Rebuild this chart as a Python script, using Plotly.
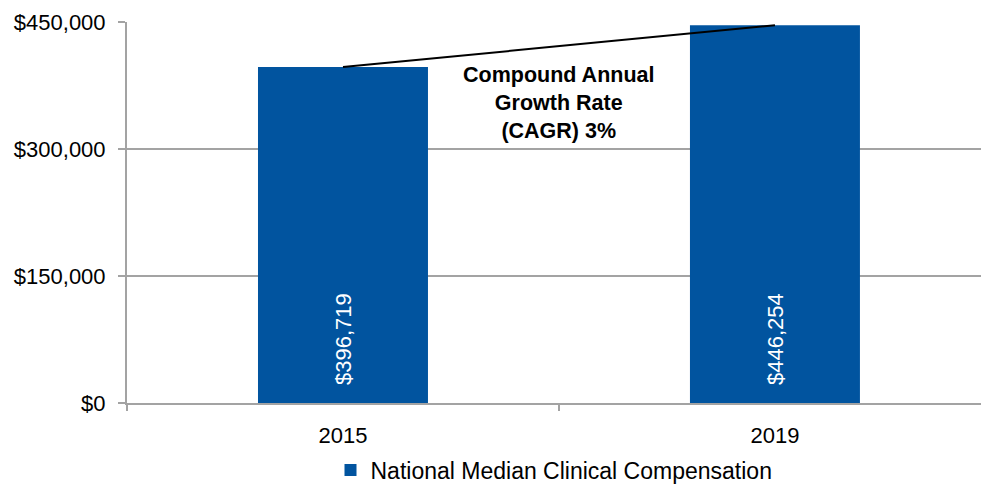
import plotly.graph_objects as go

years = ["2015", "2019"]
compensation = [396719, 446254]
series_name = "National Median Clinical Compensation"
cagr_text = "Compound Annual<br>Growth Rate<br>(CAGR) 3%"
y_ticks = [0, 150000, 300000, 450000]

BAR = "#01549F"
GRID = "#A3A3A3"
FONT = "Liberation Sans, Arial, Helvetica, sans-serif"

fig = go.Figure()
fig.add_trace(go.Bar(
    x=years, y=compensation, name=series_name,
    marker=dict(color=BAR, line=dict(width=0)),
))
fig.add_trace(go.Scatter(
    x=years, y=compensation, mode="lines",
    line=dict(color="black", width=2), showlegend=False, hoverinfo="skip",
))

for i, v in enumerate(compensation):
    fig.add_annotation(
        x=i, y=0, xref="x", yref="y", text="${:,.0f}".format(v), textangle=-90,
        showarrow=False, yanchor="bottom", yshift=16,
        font=dict(color="white", size=22, family=FONT),
    )

fig.add_annotation(
    x=0.5, y=354000, xref="x", yref="y", text="<b>" + cagr_text + "</b>",
    showarrow=False, align="center", yanchor="middle",
    font=dict(color="black", size=21.5, family=FONT),
)

fig.update_layout(
    width=981, height=485,
    margin=dict(l=127, r=0, t=22, b=82, autoexpand=False),
    paper_bgcolor="white", plot_bgcolor="white",
    font=dict(family=FONT, size=22, color="black"),
    bargap=0.6065,
    showlegend=True,
    legend=dict(orientation="h", x=0.5, xanchor="center", y=-0.176, yanchor="middle",
                font=dict(size=23), itemwidth=30),
)
fig.update_xaxes(
    type="category", range=[-0.5, 1.477],
    showline=True, linecolor=GRID, linewidth=2,
    ticks="outside", tickson="boundaries", ticklen=6, tickcolor=GRID, tickwidth=2,
    showgrid=False, tickfont=dict(size=22), ticklabelstandoff=12,
)
fig.update_yaxes(
    range=[0, 450000], tickvals=y_ticks, tickformat="$,.0f",
    showgrid=True, gridcolor=GRID, gridwidth=2,
    showline=True, linecolor=GRID, linewidth=2,
    ticks="outside", ticklen=7, tickcolor=GRID, tickwidth=2,
    zeroline=False, tickfont=dict(size=22), ticklabelstandoff=8,
)

fig.write_html("out.html")
